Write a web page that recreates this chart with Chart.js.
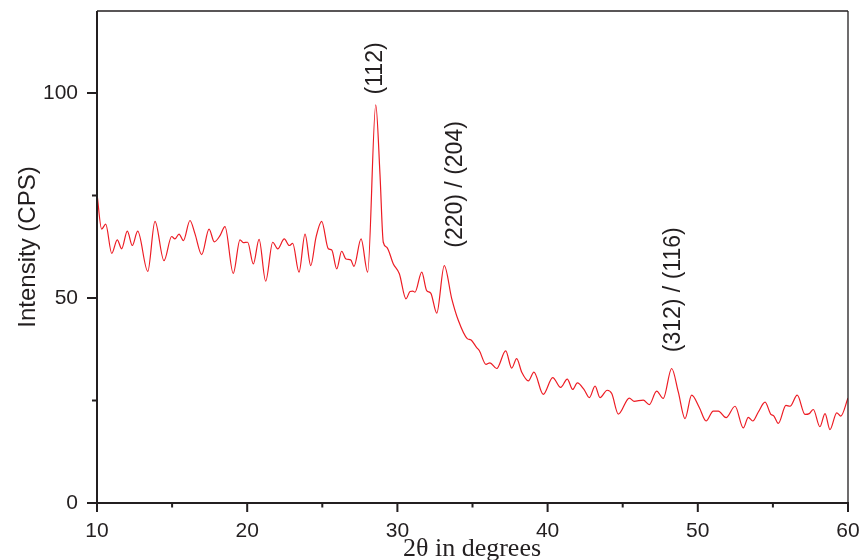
<!DOCTYPE html>
<html>
<head>
<meta charset="utf-8">
<script src="https://cdn.jsdelivr.net/npm/chart.js@4.4.1/dist/chart.umd.min.js"></script>
<style>
html,body{margin:0;padding:0;background:#fff;}
#wrap{width:862px;height:560px;}
</style>
</head>
<body>
<div id="wrap"><canvas id="c" width="862" height="560"></canvas></div>
<script>
const twoTheta = [10.00,10.31,10.58,10.98,11.35,11.64,12.02,12.35,12.71,13.38,13.86,14.46,14.97,15.19,15.46,15.75,16.19,16.52,16.97,17.46,17.81,18.19,18.52,19.07,19.52,19.74,20.03,20.41,20.79,21.23,21.70,22.03,22.47,22.80,23.03,23.45,23.85,24.23,24.58,24.96,25.40,25.63,25.96,26.29,26.58,26.89,27.11,27.58,28.02,28.56,28.84,29.06,29.29,29.73,30.13,30.57,30.84,31.02,31.17,31.62,31.95,32.22,32.62,33.12,33.62,34.06,34.65,34.88,35.28,35.45,35.90,36.16,36.61,37.21,37.61,37.94,38.28,38.72,39.09,39.71,40.34,40.87,41.31,41.67,41.98,42.42,42.78,43.16,43.49,43.97,44.27,44.71,45.44,45.75,46.37,46.77,47.26,47.70,48.26,48.70,49.15,49.59,50.10,50.55,51.03,51.37,51.88,52.48,53.03,53.36,53.66,54.03,54.48,54.85,55.07,55.36,55.87,56.14,56.62,57.14,57.42,57.69,58.13,58.47,58.80,59.25,59.52,60.00];
const intensity = [75.4,66.8,68.0,60.9,64.2,62.0,66.3,62.8,66.3,56.5,68.7,59.1,65.0,64.4,65.6,64.0,68.9,65.7,60.6,66.8,63.7,65.2,67.4,56.0,64.2,63.5,63.6,58.3,64.3,54.1,63.6,62.0,64.4,62.8,63.3,56.3,65.6,57.9,64.8,68.7,62.0,61.7,57.1,61.4,59.5,59.3,57.7,64.4,56.3,97.1,80.2,63.6,62.4,58.3,55.9,49.8,51.6,51.7,51.4,56.3,51.8,51.2,46.3,57.9,49.8,44.5,40.1,39.8,37.9,37.2,33.8,34.2,32.8,37.1,32.9,35.2,31.9,29.8,31.9,26.5,30.6,28.2,30.2,27.7,29.3,27.7,25.7,28.5,25.7,27.5,26.7,21.7,25.6,24.8,25.1,24.0,27.3,25.5,32.8,27.1,20.6,26.3,23.3,20.0,22.4,22.4,20.8,23.6,18.3,20.9,20.0,22.2,24.6,21.7,21.2,19.4,23.8,23.6,26.3,21.6,21.8,22.8,18.6,21.8,17.9,22.0,21.2,25.6];

const xMajorTicks = [10,20,30,40,50,60];
const xMinorTicks = [15,25,35,45,55];
const yMajorTicks = [0,50,100];
const yMinorTicks = [25,75];
const xTickLabels = ['10','20','30','40','50','60'];
const yTickLabels = ['0','50','100'];
const xTitle = '2θ in degrees';
const yTitle = 'Intensity (CPS)';
const peakLabels = ['(112)','(220) / (204)','(312) / (116)'];
const peakLabelX = [28.55, 33.9, 48.4];
const peakLabelY = [106, 77.7, 52];

const axisColor = '#231f20';
const sans = '"Liberation Sans", Arial, sans-serif';
const serif = '"Liberation Serif", "Times New Roman", serif';

const axesPlugin = {
  id: 'axesPlugin',
  afterDraw(chart) {
    const ctx = chart.ctx;
    const a = chart.chartArea;
    const xs = chart.scales.x, ys = chart.scales.y;
    ctx.save();
    ctx.strokeStyle = axisColor;
    ctx.lineWidth = 1.3;
    ctx.beginPath();
    ctx.moveTo(a.left, a.top); ctx.lineTo(a.right, a.top);
    ctx.moveTo(a.right, a.top); ctx.lineTo(a.right, a.bottom);
    ctx.stroke();
    ctx.lineWidth = 2;
    ctx.beginPath();
    ctx.moveTo(a.left, a.top); ctx.lineTo(a.left, a.bottom + 1);
    ctx.moveTo(a.left - 1, a.bottom); ctx.lineTo(a.right + 1, a.bottom);
    ctx.stroke();
    ctx.lineWidth = 2;
    ctx.beginPath();
    xMajorTicks.forEach(v => { const p = xs.getPixelForValue(v); ctx.moveTo(p, a.bottom); ctx.lineTo(p, a.bottom + 9); });
    xMinorTicks.forEach(v => { const p = xs.getPixelForValue(v); ctx.moveTo(p, a.bottom); ctx.lineTo(p, a.bottom + 4.5); });
    yMajorTicks.forEach(v => { const p = ys.getPixelForValue(v); ctx.moveTo(a.left, p); ctx.lineTo(a.left - 10, p); });
    yMinorTicks.forEach(v => { const p = ys.getPixelForValue(v); ctx.moveTo(a.left, p); ctx.lineTo(a.left - 5, p); });
    ctx.stroke();
    ctx.fillStyle = axisColor;
    ctx.font = '21px ' + sans;
    ctx.textAlign = 'center'; ctx.textBaseline = 'middle';
    xMajorTicks.forEach((v, i) => ctx.fillText(xTickLabels[i], xs.getPixelForValue(v), a.bottom + 28));
    ctx.textAlign = 'right';
    yMajorTicks.forEach((v, i) => ctx.fillText(yTickLabels[i], a.left - 19, ys.getPixelForValue(v)));
    ctx.save();
    ctx.translate(28, (a.top + a.bottom) / 2 - 10);
    ctx.rotate(-Math.PI / 2);
    ctx.textAlign = 'center'; ctx.textBaseline = 'middle';
    ctx.font = '24px ' + sans;
    ctx.fillText(yTitle, 0, 0);
    ctx.restore();
    ctx.textAlign = 'center'; ctx.textBaseline = 'middle';
    ctx.font = '26px ' + serif;
    ctx.fillText(xTitle, 472, 549);
    ctx.font = '23px ' + sans;
    peakLabels.forEach((t, i) => {
      ctx.save();
      ctx.translate(xs.getPixelForValue(peakLabelX[i]), ys.getPixelForValue(peakLabelY[i]));
      ctx.rotate(-Math.PI / 2);
      ctx.textAlign = 'center'; ctx.textBaseline = 'middle';
      ctx.fillText(t, 0, 0);
      ctx.restore();
    });
    ctx.restore();
  }
};

new Chart(document.getElementById('c'), {
  type: 'line',
  data: {
    datasets: [{
      data: twoTheta.map((x, i) => ({x: x, y: intensity[i]})),
      borderColor: '#ed1c24',
      borderWidth: 1.2,
      pointRadius: 0,
      fill: false,
      cubicInterpolationMode: 'monotone'
    }]
  },
  options: {
    responsive: false,
    animation: false,
    events: [],
    layout: { padding: { left: 97, right: 14, top: 11, bottom: 57 } },
    plugins: { legend: { display: false }, tooltip: { enabled: false } },
    scales: {
      x: { type: 'linear', min: 10, max: 60, display: false },
      y: { type: 'linear', min: 0, max: 120, display: false }
    }
  },
  plugins: [axesPlugin]
});
</script>
</body>
</html>
